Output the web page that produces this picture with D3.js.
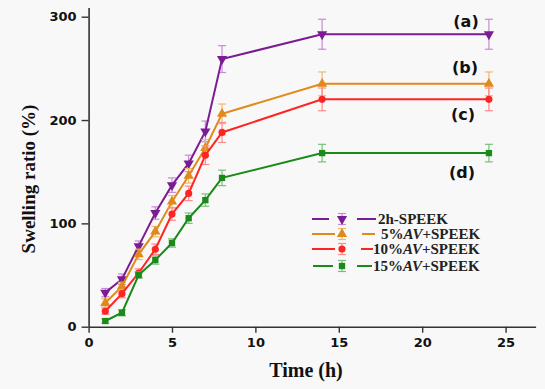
<!DOCTYPE html>
<html>
<head>
<meta charset="utf-8">
<script src="https://cdn.jsdelivr.net/npm/d3@7"></script>
<style>
  body { margin: 0; background: #f8f8f8; }
  svg { display: block; }
</style>
</head>
<body>
<div id="chart"></div>
<script>
// Dades llegides de la figura
const times = [1, 2, 3, 4, 5, 6, 7, 8, 14, 24];
const seriesNames = ["2h-SPEEK", "5%AV+SPEEK", "10%AV+SPEEK", "15%AV+SPEEK"];
const swell2h = [33, 46, 78, 110, 137, 158, 189, 259, 283, 283];
const swell5 = [23, 39, 70, 92, 121, 146, 173, 206, 235, 235];
const swell10 = [15, 32, 52, 75, 109, 129, 166, 188, 220, 220];
const swell15 = [5.5, 13.5, 50, 64.5, 81, 105, 122.5, 144, 168, 168];
const err2h = [4, 5, 5, 6, 7, 8, 10, 13, 14.5, 14.5];
const err5 = [4, 4, 5, 5, 6, 7, 8, 9.5, 11.5, 11.5];
const err10 = [3, 4, 4, 5, 6, 7, 9, 9.7, 11, 11];
const err15 = [2, 3, 3, 4, 4, 5, 6, 7.5, 8.5, 8.5];
const curveLabels = ["(a)", "(b)", "(c)", "(d)"];
const xTicks = [0, 5, 10, 15, 20, 25];
const yTicks = [0, 100, 200, 300];

const W = 545, H = 389;

const series = [
  { name: seriesNames[0], vals: swell2h, err: err2h, color: "#7b1c93", light: "#c98ad6", shape: "down" },
  { name: seriesNames[1], vals: swell5, err: err5, color: "#e08a1a", light: "#f0b870", shape: "up" },
  { name: seriesNames[2], vals: swell10, err: err10, color: "#ff2424", light: "#ff8a8a", shape: "circle" },
  { name: seriesNames[3], vals: swell15, err: err15, color: "#1a8a1a", light: "#78c078", shape: "square" }
];

const x = d3.scaleLinear().domain([0, 26.8]).range([88.6, 535.6]);
const y = d3.scaleLinear().domain([0, 309]).range([326.7, 7.4]);

const svg = d3.select("#chart").append("svg")
  .attr("width", W).attr("height", H);

svg.append("rect").attr("width", W).attr("height", H).attr("fill", "#f8f8f8");

// Eixos
const xAxis = svg.append("g")
  .attr("transform", `translate(0,${y(0)})`)
  .call(d3.axisBottom(x).tickValues(xTicks).tickSize(6).tickPadding(5).tickSizeOuter(0));
const yAxis = svg.append("g")
  .attr("transform", `translate(${x(0)},0)`)
  .call(d3.axisLeft(y).tickValues(yTicks).tickSize(7).tickPadding(5).tickSizeOuter(0));

[xAxis, yAxis].forEach(g => {
  g.select(".domain").attr("stroke", "#333").attr("stroke-width", 1.6);
  g.selectAll(".tick line").attr("stroke", "#333").attr("stroke-width", 1.4);
  g.selectAll(".tick text")
    .attr("fill", "#111")
    .attr("font-family", "DejaVu Sans")
    .attr("font-weight", "bold")
    .attr("font-size", "13px");
});

// Títols dels eixos
svg.append("text")
  .attr("x", 306).attr("y", 377)
  .attr("text-anchor", "middle")
  .attr("font-family", "Liberation Serif")
  .attr("font-weight", "bold")
  .attr("font-size", "20px")
  .attr("fill", "#111")
  .text("Time (h)");

svg.append("text")
  .attr("transform", "translate(35,179) rotate(-90)")
  .attr("text-anchor", "middle")
  .attr("font-family", "Liberation Serif")
  .attr("font-weight", "bold")
  .attr("font-size", "19px")
  .attr("fill", "#111")
  .text("Swelling ratio (%)");

function symbolPath(shape) {
  if (shape === "circle") return d3.symbol(d3.symbolCircle, 40)();
  if (shape === "square") return d3.symbol(d3.symbolSquare, 40)();
  return d3.symbol(d3.symbolTriangle, 45)();
}

function drawMarker(g, s, cx, cy) {
  const rot = s.shape === "down" ? " rotate(180)" : "";
  g.append("path")
    .attr("d", symbolPath(s.shape))
    .attr("transform", `translate(${cx},${cy})${rot}`)
    .attr("fill", s.color);
}

function drawErr(g, s, cx, top, bot) {
  g.append("line").attr("x1", cx).attr("x2", cx).attr("y1", top).attr("y2", bot)
    .attr("stroke", s.light).attr("stroke-width", 1.2);
  [top, bot].forEach(yy => {
    g.append("line").attr("x1", cx - 4).attr("x2", cx + 4).attr("y1", yy).attr("y2", yy)
      .attr("stroke", s.light).attr("stroke-width", 1.2);
  });
}

const line = d3.line().x(d => x(d.t)).y(d => y(d.v));

series.forEach(s => {
  const pts = times.map((t, i) => ({ t, v: s.vals[i], e: s.err[i] }));
  const g = svg.append("g");
  pts.forEach(p => drawErr(g, s, x(p.t), y(p.v + p.e), y(p.v - p.e)));
  g.append("path").datum(pts)
    .attr("d", line)
    .attr("fill", "none")
    .attr("stroke", s.color)
    .attr("stroke-width", 2);
  pts.forEach(p => drawMarker(g, s, x(p.t), y(p.v)));
});

// Etiquetes de les corbes
const labelPos = [[466, 21], [465, 67], [463, 114], [462, 172]];
curveLabels.forEach((lab, i) => {
  svg.append("text")
    .attr("x", labelPos[i][0]).attr("y", labelPos[i][1])
    .attr("dy", "0.35em")
    .attr("text-anchor", "middle")
    .attr("font-family", "DejaVu Sans")
    .attr("font-weight", "bold")
    .attr("font-size", "16px")
    .attr("fill", "#111")
    .text(lab);
});

// Llegenda
const legRows = [219, 234, 249, 266];
const legRight = [[357, 376], [362, 375], [361, 373], [357, 372]];
const legLeft = [[312, 329], [312, 335], [312, 335], [313, 333]];
const legText = [378, 381, 373, 373];
series.forEach((s, i) => {
  const g = svg.append("g");
  const ly = legRows[i];
  [legLeft[i], legRight[i]].forEach(seg => {
    g.append("line").attr("x1", seg[0]).attr("x2", seg[1]).attr("y1", ly).attr("y2", ly)
      .attr("stroke", s.color).attr("stroke-width", 2);
  });
  drawErr(g, s, 342, ly - 5.5, ly + 5.5);
  drawMarker(g, s, 342, ly);
  const m = s.name.match(/^(.*%)(AV)(\+SPEEK)$/);
  const t = g.append("text")
    .attr("x", legText[i]).attr("y", ly + 5)
    .attr("font-family", "Liberation Serif")
    .attr("font-weight", "bold")
    .attr("font-size", "15px")
    .attr("fill", "#222");
  if (m) {
    t.append("tspan").text(m[1]);
    t.append("tspan").attr("font-style", "italic").text(m[2]);
    t.append("tspan").text(m[3]);
  } else {
    t.text(s.name);
  }
});
</script>
</body>
</html>
